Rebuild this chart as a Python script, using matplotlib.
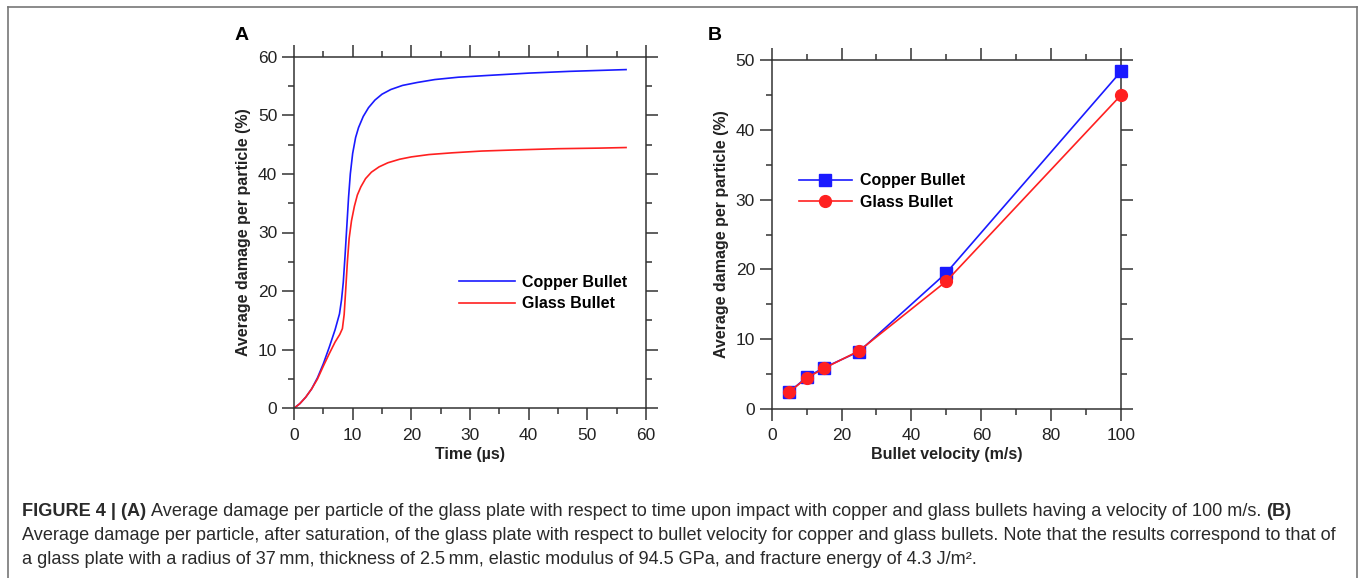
import matplotlib
matplotlib.use("Agg")
import matplotlib.pyplot as plt
from matplotlib.ticker import MultipleLocator
from matplotlib.lines import Line2D

# ---------------- data ----------------
# Panel A: damage vs time (100 m/s impact)
time_copper = [0, 1, 2, 3, 4, 5, 6, 7, 7.75, 8.1, 8.4, 8.7, 9.0, 9.3, 9.6, 10.0, 10.5, 11.0,
               11.8, 12.7, 13.8, 15.0, 16.5, 18.5, 21, 24, 28, 33, 40, 47, 56.6]
damage_copper = [0, 0.8, 1.9, 3.3, 5.2, 7.6, 10.4, 13.4, 16.1, 18.5, 21.5, 26, 31, 36, 40, 43.5,
                 46.2, 47.9, 49.8, 51.3, 52.6, 53.6, 54.4, 55.1, 55.6, 56.1, 56.5, 56.8, 57.2,
                 57.5, 57.8]
time_glass = [0, 1, 2, 3, 4, 5, 6, 7, 7.8, 8.25, 8.55, 8.8, 9.1, 9.4, 9.8, 10.3, 10.8, 11.4,
              12.2, 13.2, 14.5, 16, 18, 20, 23, 27, 32, 38, 45, 52, 56.6]
damage_glass = [0, 0.8, 1.9, 3.3, 5.0, 7.2, 9.3, 11.3, 12.6, 13.6, 16, 20, 25, 29, 32, 34.5,
                36.4, 37.8, 39.2, 40.3, 41.2, 41.9, 42.5, 42.9, 43.3, 43.6, 43.9, 44.1, 44.3,
                44.4, 44.5]

# Panel B: saturated damage vs bullet velocity
velocity = [5, 10, 15, 25, 50, 100]
sat_copper = [2.4, 4.5, 5.9, 8.2, 19.5, 48.4]
sat_glass = [2.4, 4.4, 5.8, 8.3, 18.3, 45.0]

series_labels = ["Copper Bullet", "Glass Bullet"]

caption_lines = [
    [("FIGURE 4 | (A)", "bold"),
     ("Average damage per particle of the glass plate with respect to time upon impact with "
      "copper and glass bullets having a velocity of 100 m/s.", "normal"),
     ("(B)", "bold")],
    [("Average damage per particle, after saturation, of the glass plate with respect to bullet "
      "velocity for copper and glass bullets. Note that the results correspond to that of", "normal")],
    [("a glass plate with a radius of 37\u2009mm, thickness of 2.5\u2009mm, elastic modulus of "
      "94.5 GPa, and fracture energy of 4.3 J/m\u00b2.", "normal")],
]

# ---------------- style ----------------
plt.rcParams["font.family"] = ["Liberation Sans", "DejaVu Sans"]

W, H = 1360, 578
fig = plt.figure(figsize=(W / 100, H / 100), dpi=100)

BLUE = "#1a1aff"
RED = "#ff2020"
AXC = "#333333"
TXT = "#222222"
TICK_FS = 12.5
LAB_FS = 11.5


def style_axes(ax, xmaj, xmin, ymaj, ymin):
    for s in ax.spines.values():
        s.set_color(AXC)
        s.set_linewidth(1.1)
    ax.xaxis.set_major_locator(MultipleLocator(xmaj))
    ax.xaxis.set_minor_locator(MultipleLocator(xmin))
    ax.yaxis.set_major_locator(MultipleLocator(ymaj))
    ax.yaxis.set_minor_locator(MultipleLocator(ymin))
    ax.tick_params(which="both", direction="out", top=True, right=True, color=AXC, width=1.1)
    ax.tick_params(which="major", length=8.5)
    ax.tick_params(which="minor", length=4.5)
    ax.tick_params(axis="x", which="major", pad=5.5, labelsize=TICK_FS, labelcolor=TXT)
    ax.tick_params(axis="y", which="major", pad=3.5, labelsize=TICK_FS, labelcolor=TXT)


# Panel A
axA = fig.add_axes([294 / W, 1 - 408.3 / H, 352 / W, 351.6 / H])
axA.plot(time_copper, damage_copper, color=BLUE, lw=1.2, label=series_labels[0])
axA.plot(time_glass, damage_glass, color=RED, lw=1.2, label=series_labels[1])
axA.set_xlim(0, 60)
axA.set_ylim(0, 60)
style_axes(axA, 10, 5, 10, 5)
axA.set_xlabel("Time (\u00b5s)", fontsize=LAB_FS, fontweight="bold", color=TXT, labelpad=3)
axA.set_ylabel("Average damage per particle (%)", fontsize=LAB_FS, fontweight="bold",
               color=TXT, labelpad=5)
axA.legend(loc="upper left", bbox_to_anchor=((459 - 294) / 352, (408.3 - 275) / 351.6),
           frameon=False, prop={"weight": "bold", "size": 11.5},
           handlelength=3.5, handletextpad=0.45, labelspacing=0.4, borderpad=0,
           borderaxespad=0)

# Panel B
axB = fig.add_axes([771.7 / W, 1 - 408.7 / H, 349.3 / W, 348.4 / H])
axB.plot(velocity, sat_copper, color=BLUE, lw=1.2, marker="s", ms=8, mfc=BLUE, mec=BLUE,
         label=series_labels[0], clip_on=False, zorder=3)
axB.plot(velocity, sat_glass, color=RED, lw=1.2, marker="o", ms=8.5, mfc=RED, mec=RED,
         label=series_labels[1], clip_on=False, zorder=4)
axB.set_xlim(0, 100)
axB.set_ylim(0, 50)
style_axes(axB, 20, 10, 10, 5)
axB.set_xlabel("Bullet velocity (m/s)", fontsize=LAB_FS, fontweight="bold", color=TXT, labelpad=3)
axB.set_ylabel("Average damage per particle (%)", fontsize=LAB_FS, fontweight="bold",
               color=TXT, labelpad=5)
axB.legend(loc="upper left", bbox_to_anchor=((799 - 771.7) / 349.3, (408.7 - 173.5) / 348.4),
           frameon=False, prop={"weight": "bold", "size": 11.5},
           handlelength=3.3, handletextpad=0.5, labelspacing=0.4, borderpad=0,
           borderaxespad=0)

# Panel letters
fig.text(235 / W, 1 - 40 / H, "A", fontsize=14, fontweight="bold", color="black", va="baseline")
fig.text(708 / W, 1 - 40 / H, "B", fontsize=14, fontweight="bold", color="black", va="baseline")

# Frame around figure (open at bottom)
frame_kw = dict(color="#777777", lw=1.2, transform=fig.transFigure)
fig.add_artist(Line2D([8 / W, 8 / W], [0, 1 - 7 / H], **frame_kw))
fig.add_artist(Line2D([8 / W, 1357 / W], [1 - 7 / H, 1 - 7 / H], **frame_kw))
fig.add_artist(Line2D([1357 / W, 1357 / W], [0, 1 - 7 / H], **frame_kw))

# Caption with mixed weights
renderer = fig.canvas.get_renderer()


def text_width(s, weight, size):
    t = fig.text(0, 0, s, fontsize=size, fontweight=weight)
    w = t.get_window_extent(renderer).width
    t.remove()
    return w


def space_width(size):
    return text_width("a a", "normal", size) - text_width("aa", "normal", size)


def line_width(runs, size):
    total = 0
    for i, (s, wgt) in enumerate(runs):
        total += text_width(s, wgt, size)
        if i < len(runs) - 1:
            total += space_width(size)
    return total


size0 = 11.0
w0 = line_width(caption_lines[0], size0)
cap_size = size0 * (1293 - 22) / w0

baselines = [516, 540, 564]
for runs, yb in zip(caption_lines, baselines):
    x = 22.0
    sp = space_width(cap_size)
    for s, wgt in runs:
        t = fig.text(x / W, 1 - yb / H, s, fontsize=cap_size, fontweight=wgt, color="#2a2a2a",
                     va="baseline", ha="left")
        x += t.get_window_extent(renderer).width + sp

fig.savefig("out.png", dpi=100)
